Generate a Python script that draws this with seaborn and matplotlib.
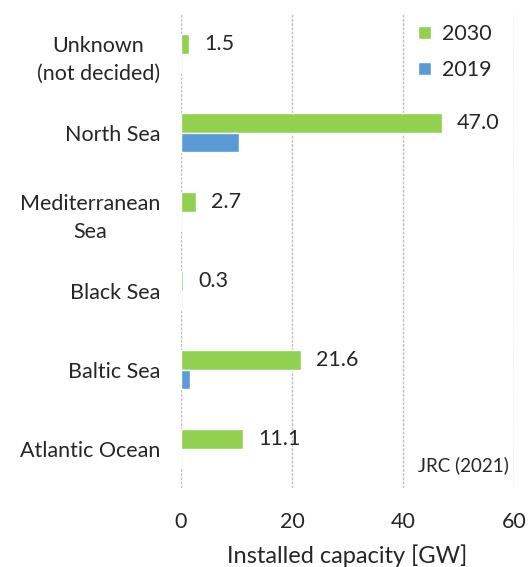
import pandas as pd
import numpy as np
import seaborn as sns
import matplotlib
matplotlib.use("Agg")
import matplotlib.pyplot as plt

regions = ['Unknown\n(not decided)', 'North Sea', 'Mediterranean\nSea',
           'Black Sea', 'Baltic Sea', 'Atlantic Ocean']
cap_2030 = [1.5, 47.0, 2.7, 0.3, 21.6, 11.1]
cap_2019 = [0.0, 10.5, 0.0, 0.0, 1.6, 0.0]
years = ['2030', '2019']
colors = ['#92D050', '#5B9BD5']

df = pd.DataFrame({
    'region': regions * 2,
    'year': ['2030'] * len(regions) + ['2019'] * len(regions),
    'value': cap_2030 + cap_2019,
})

sns.set_theme(style='white')
plt.rcParams['font.family'] = ['Lato', 'DejaVu Sans']
txt = '#262626'
fs = 15.5

fig = plt.figure(figsize=(5.3, 5.67), dpi=100)
ax = fig.add_axes([0.3415, 0.139, 0.6285, 0.836])

sns.barplot(data=df, x='value', y='region', hue='year', hue_order=years,
            order=regions, palette=colors, width=0.5, gap=0, orient='h',
            saturation=1, ax=ax, errorbar=None)

# labels only on the 2030 bars
ax.bar_label(ax.containers[0], fmt='%.1f', padding=11, fontsize=fs, color=txt)

ax.set_xlim(0, 60)
ax.set_xticks([0, 20, 40, 60])
ax.grid(axis='x', color='#BFBFBF', linestyle=(0, (2, 1)), linewidth=1)
ax.set_axisbelow(True)
for s in ax.spines.values():
    s.set_visible(False)

ax.tick_params(axis='both', length=0, labelsize=fs, colors=txt)
ax.tick_params(axis='y', pad=15)
ax.tick_params(axis='x', pad=17)
for lbl in ax.get_yticklabels():
    lbl.set_multialignment('center')
    lbl.set_linespacing(1.5)

ax.set_ylabel('')
ax.set_xlabel('Installed capacity [GW]', fontsize=17, color=txt, labelpad=9)

leg = ax.legend(loc='upper right', frameon=False, fontsize=fs,
                handlelength=0.6, handleheight=0.6, handletextpad=0.5,
                labelspacing=0.75, bbox_to_anchor=(0.99, 1.02))
for t in leg.get_texts():
    t.set_color(txt)

ax.text(0.985, 0.03, 'JRC (2021)', transform=ax.transAxes, ha='right',
        va='bottom', fontsize=13.5, color=txt)

fig.savefig('out.png', dpi=100)
